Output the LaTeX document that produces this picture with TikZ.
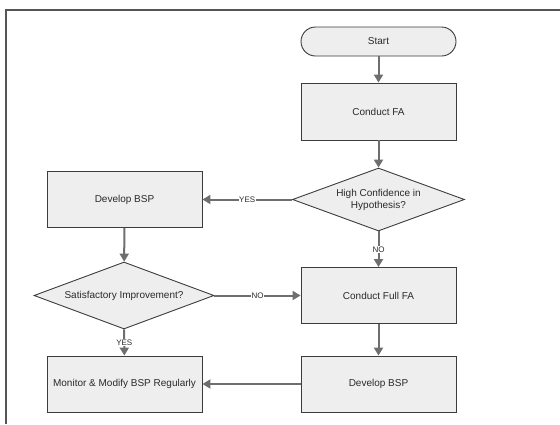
\documentclass[tikz,border=0pt]{standalone}
\usepackage{fontspec}
\setmainfont{Liberation Sans}
\usetikzlibrary{shapes.geometric,arrows.meta}
\definecolor{boxfill}{HTML}{EEEEEE}
\definecolor{boxline}{HTML}{3C3C3C}
\definecolor{flow}{HTML}{6E6E6E}
\definecolor{framecol}{HTML}{555555}
\definecolor{ink}{HTML}{2A2A2A}
\begin{document}
\begin{tikzpicture}[x=1pt,y=-1pt,
  box/.style={draw=boxline, fill=boxfill, line width=0.9pt, minimum width=155pt,
    minimum height=56pt, inner sep=0pt, font=\fontsize{10}{12}\selectfont,
    text=ink, align=center},
  term/.style={box, rounded corners=14.5pt, minimum height=29pt},
  decision/.style={diamond, draw=boxline, fill=boxfill, line width=0.9pt,
    inner sep=0pt, aspect=2.7, font=\fontsize{10}{12}\selectfont,
    text=ink, align=center},
  flowline/.style={draw=flow, line width=2pt, -{Triangle[width=9pt,length=8pt]}},
  tag/.style={fill=white, inner sep=0.6pt, font=\fontsize{8}{9}\selectfont, text=ink}
]
  \useasboundingbox (0,0) rectangle (560,424);

  % outer frame (open to the right and bottom)
  \coordinate (fbl) at (6,424);
  \coordinate (ftl) at (6,10);
  \coordinate (ftr) at (560,10);
  \draw[framecol, line width=1.5pt] (fbl) -- (ftl) -- (ftr);

  % steps
  \node[term] (start) at (378.5,41.5) {Start};
  \node[box, minimum height=57pt] (fa) at (378.5,111.5) {Conduct FA};
  \node[decision, minimum width=172pt, minimum height=63pt] (q1) at (378.5,199.5)
    {High Confidence in\\Hypothesis?};
  \node[box] (dev1) at (124.5,199.5) {Develop BSP};
  \node[decision, minimum width=180pt, minimum height=67pt] (q2) at (124,295.5)
    {Satisfactory Improvement?};
  \node[box] (full) at (378.5,295.5) {Conduct Full FA};
  \node[box] (dev2) at (378.5,384) {Develop BSP};
  \node[box] (mon) at (124.5,384) {Monitor \& Modify BSP Regularly};

  % connectors
  \draw[flowline] (start) -- (fa);
  \draw[flowline] (fa) -- (q1);
  \draw[flowline] (q1) -- node[tag] {YES} (dev1);
  \draw[flowline] (q1) -- node[tag] {NO} (full);
  \draw[flowline] (dev1) -- (q2);
  \draw[flowline] (q2.east) -- node[tag] {NO} (full.west);
  \draw[flowline] (q2) -- node[tag] {YES} (mon);
  \draw[flowline] (full) -- (dev2);
  \draw[flowline] (dev2) -- (mon);
\end{tikzpicture}
\end{document}
